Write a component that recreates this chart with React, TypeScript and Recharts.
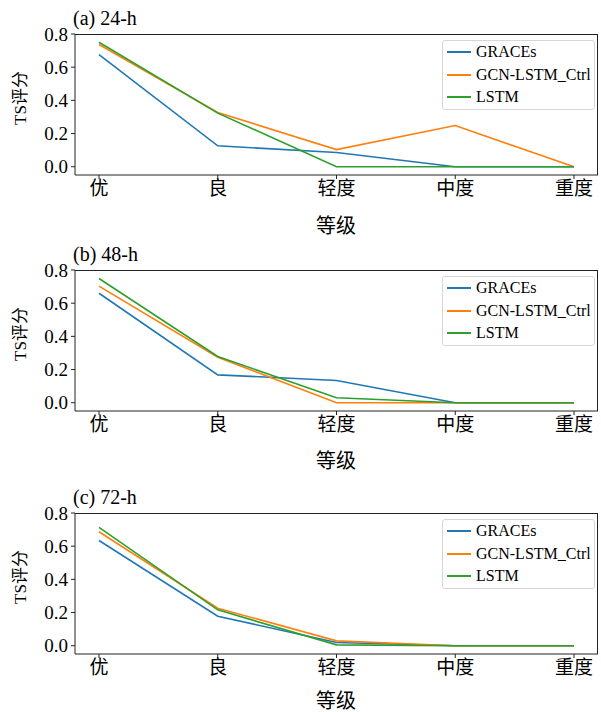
import { type ReactElement } from "react";
import { LineChart, Line, XAxis, YAxis, Legend } from "recharts";

const levels = ["优", "良", "轻度", "中度", "重度"];
const seriesNames = ["GRACEs", "GCN-LSTM_Ctrl", "LSTM"];
const seriesColors = ["#1f77b4", "#ff7f0e", "#2ca02c"];
const yTicks = [0, 0.2, 0.4, 0.6, 0.8];

// 24-h
const graces24 = [0.675, 0.126, 0.086, 0, 0];
const gcn24 = [0.737, 0.327, 0.103, 0.248, 0];
const lstm24 = [0.75, 0.323, 0, 0, 0];
// 48-h
const graces48 = [0.66, 0.168, 0.134, 0, 0];
const gcn48 = [0.703, 0.274, 0, 0, 0];
const lstm48 = [0.749, 0.279, 0.03, 0, 0];
// 72-h
const graces72 = [0.634, 0.178, 0.019, 0, 0];
const gcn72 = [0.687, 0.226, 0.029, 0, 0];
const lstm72 = [0.713, 0.216, 0.005, 0, 0];

const panels = [
  { title: "(a) 24-h", top: 0, labelY: 226, values: [graces24, gcn24, lstm24] },
  { title: "(b) 48-h", top: 236, labelY: 225, values: [graces48, gcn48, lstm48] },
  { title: "(c) 72-h", top: 479, labelY: 222, values: [graces72, gcn72, lstm72] },
];

const FONT = '"Liberation Serif", "Noto Sans CJK SC", serif';
const AXIS = "#222";

function LegendBox(props: any): ReactElement {
  const items = [...(props.payload || [])].sort(
    (a: any, b: any) => seriesNames.indexOf(a.value) - seriesNames.indexOf(b.value)
  );
  return (
    <div
      style={{
        border: "1px solid #d6d6d6",
        borderRadius: 3,
        background: "rgba(255,255,255,0.8)",
        padding: "0px 3px 0px 4px",
        fontFamily: FONT,
        fontSize: 16,
        color: "#000",
        whiteSpace: "nowrap",
      }}
    >
      {items.map((it: any) => (
        <div key={it.value} style={{ display: "flex", alignItems: "center", height: 22.5 }}>
          <span
            style={{ display: "inline-block", width: 24, height: 2, background: it.color, marginRight: 5 }}
          />
          <span>{it.value}</span>
        </div>
      ))}
    </div>
  );
}

function Panel({
  title,
  top,
  labelY,
  values,
}: {
  title: string;
  top: number;
  labelY: number;
  values: number[][];
}): ReactElement {
  const data = levels.map((lv, i) => {
    const row: Record<string, number | string> = { level: lv };
    seriesNames.forEach((name, s) => {
      row[name] = values[s][i];
    });
    return row;
  });

  return (
    <div style={{ position: "absolute", left: 0, top, width: 601, height: 233 }}>
      <LineChart
        width={601}
        height={233}
        data={data}
        margin={{ top: 34, right: 3, bottom: 0, left: 0 }}
      >
        <XAxis
          dataKey="level"
          padding={{ left: 24, right: 24 }}
          height={58}
          tickSize={4}
          tickMargin={3}
          stroke={AXIS}
          tick={{ fill: "#000", fontSize: 19, fontFamily: FONT }}
          interval={0}
        />
        <YAxis
          domain={[-0.05, 0.8]}
          ticks={yTicks}
          allowDataOverflow
          width={75}
          tickSize={4}
          tickMargin={3}
          stroke={AXIS}
          tickFormatter={(v: number) => v.toFixed(1)}
          tick={{ fill: "#000", fontSize: 19, fontFamily: FONT }}
        />
        {seriesNames.map((name, s) => (
          <Line
            key={name}
            type="linear"
            dataKey={name}
            stroke={seriesColors[s]}
            strokeWidth={1.6}
            dot={false}
            isAnimationActive={false}
          />
        ))}
        <Legend
          layout="vertical"
          align="center"
          verticalAlign="middle"
          content={LegendBox}
          wrapperStyle={{ left: 442, top: 40, width: "auto", height: "auto" }}
        />
      </LineChart>
      {/* box round the plot area, as matplotlib draws it */}
      <div
        style={{
          position: "absolute",
          left: 75,
          top: 34,
          width: 523,
          height: 141,
          boxSizing: "border-box",
          border: `1px solid ${AXIS}`,
          borderBottom: "none",
          borderLeft: "none",
          pointerEvents: "none",
        }}
      />
      <div
        style={{
          position: "absolute",
          left: 73,
          top: 8,
          fontFamily: FONT,
          fontSize: 20,
          lineHeight: "20px",
          whiteSpace: "nowrap",
        }}
      >
        {title}
      </div>
      <div
        style={{
          position: "absolute",
          left: 20,
          top: 98,
          transform: "translate(-50%, -50%) rotate(-90deg)",
          fontFamily: FONT,
          fontSize: 17,
          lineHeight: "17px",
          whiteSpace: "nowrap",
        }}
      >
        TS评分
      </div>
      <div
        style={{
          position: "absolute",
          left: 336,
          top: labelY,
          transform: "translate(-50%, -50%)",
          fontFamily: FONT,
          fontSize: 20,
          lineHeight: "20px",
          whiteSpace: "nowrap",
        }}
      >
        等级
      </div>
    </div>
  );
}

export default function App(): ReactElement {
  return (
    <div style={{ position: "absolute", left: 0, top: 0, width: 601, height: 712, background: "#fff" }}>
      {panels.map((p) => (
        <Panel key={p.title} title={p.title} top={p.top} labelY={p.labelY} values={p.values} />
      ))}
    </div>
  );
}
